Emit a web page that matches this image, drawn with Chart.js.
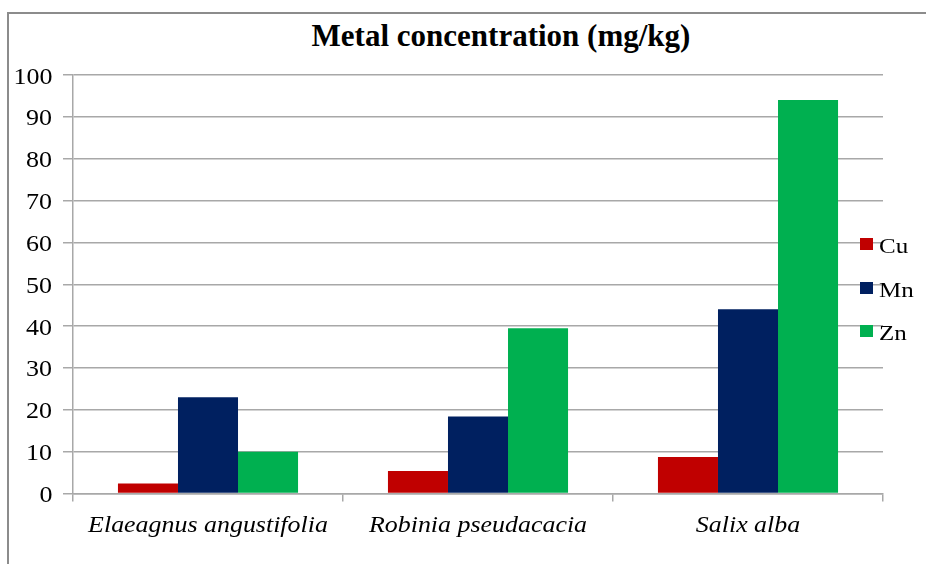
<!DOCTYPE html>
<html>
<head>
<meta charset="utf-8">
<script src="https://cdn.jsdelivr.net/npm/chart.js@4.4.0/dist/chart.umd.min.js"></script>
<style>
  html, body { margin: 0; padding: 0; background: #fff; }
  #wrap { position: relative; width: 926px; height: 564px; overflow: hidden;
          font-family: "Liberation Serif", serif; color: #000; }
  #frame { position: absolute; left: 7px; top: 12px; width: 1000px; height: 600px;
           border-top: 2px solid #8c8c8c; border-left: 2px solid #8c8c8c; }
  #title { position: absolute; left: 0; top: 18px; width: 1002px; text-align: center;
           font-weight: bold; font-size: 31px; }
  canvas { position: absolute; left: 0; top: 0; }
  .lbl { position: absolute; white-space: nowrap; line-height: 1; }
  .ytick { font-size: 23px; transform-origin: 100% 50%; }
  .xtick { font-size: 24px; font-style: italic; transform-origin: 50% 0; }
  .leg { font-size: 20px; transform-origin: 0 50%; }
  .sw { position: absolute; width: 13px; height: 12px; }
</style>
</head>
<body>
<div id="wrap">
  <div id="frame"></div>
  <div id="title">Metal concentration (mg/kg)</div>
  <canvas id="chart" width="926" height="564"></canvas>
  <div id="labels"></div>
</div>
<script>
// Species and measured metal concentrations (mg/kg)
const species = ['Elaeagnus angustifolia', 'Robinia pseudacacia', 'Salix alba'];
const cu = [2.4, 5.4, 8.7];
const mn = [23.0, 18.4, 44.0];
const zn = [10.0, 39.5, 94.0];
const metals = ['Cu', 'Mn', 'Zn'];
const yTicks = [0, 10, 20, 30, 40, 50, 60, 70, 80, 90, 100];

const colors = ['#C00000', '#002060', '#00B050'];
const gridColor = '#a8a8a8';

// Axis labels and legend are laid out as HTML text on top of the canvas,
// positioned from the chart's own scales.
const htmlLabels = {
  id: 'htmlLabels',
  afterRender(chart) {
    const host = document.getElementById('labels');
    host.innerHTML = '';
    const add = (cls, text, style) => {
      const d = document.createElement('div');
      d.className = 'lbl ' + cls;
      d.textContent = text;
      Object.assign(d.style, style);
      host.appendChild(d);
      return d;
    };
    const { x, y } = chart.scales;
    const area = chart.chartArea;

    yTicks.forEach(v => {
      add('ytick', String(v), {
        right: (chart.width - (area.left - 21)) + 'px',
        top: (y.getPixelForValue(v) + 0.5) + 'px',
        transform: 'translateY(-50%) scaleX(1.13)'
      });
    });

    species.forEach((name, i) => {
      const d = add('xtick', name, {
        left: x.getPixelForValue(i) + 'px',
        top: (area.bottom + 18) + 'px',
        transform: 'translateX(-50%) scaleX(1.08)'
      });
    });

    chart.data.datasets.forEach((ds, i) => {
      const cy = 244 + i * 43.5;
      const sw = document.createElement('div');
      sw.className = 'sw';
      Object.assign(sw.style, { left: '860px', top: (cy - 6) + 'px', background: ds.backgroundColor });
      host.appendChild(sw);
      add('leg', ds.label, {
        left: '879px',
        top: (cy + 2) + 'px',
        transform: 'translateY(-50%) scaleX(1.25)'
      });
    });
  }
};

new Chart(document.getElementById('chart'), {
  type: 'bar',
  data: {
    labels: species,
    datasets: [
      { label: metals[0], data: cu, backgroundColor: colors[0] },
      { label: metals[1], data: mn, backgroundColor: colors[1] },
      { label: metals[2], data: zn, backgroundColor: colors[2] }
    ]
  },
  options: {
    responsive: false,
    animation: false,
    layout: { padding: { left: 0, right: 43, top: 75, bottom: 0 } },
    datasets: { bar: { categoryPercentage: 0.667, barPercentage: 1.0, borderWidth: 0 } },
    plugins: {
      legend: { display: false },
      title: { display: false },
      tooltip: { enabled: false }
    },
    scales: {
      x: {
        grid: { drawOnChartArea: false, drawTicks: true, tickLength: 8, color: gridColor, lineWidth: 1.5 },
        border: { display: true, color: gridColor, width: 1.5 },
        ticks: { display: false },
        afterFit(scale) { scale.height = 70.5; }
      },
      y: {
        min: 0, max: 100,
        afterBuildTicks(scale) { scale.ticks = yTicks.map(v => ({ value: v })); },
        grid: { color: gridColor, lineWidth: 1.5, tickLength: 10, drawTicks: true },
        border: { display: true, color: gridColor, width: 1.5 },
        ticks: { display: false },
        afterFit(scale) { scale.width = 73; }
      }
    }
  },
  plugins: [htmlLabels]
});
</script>
</body>
</html>
